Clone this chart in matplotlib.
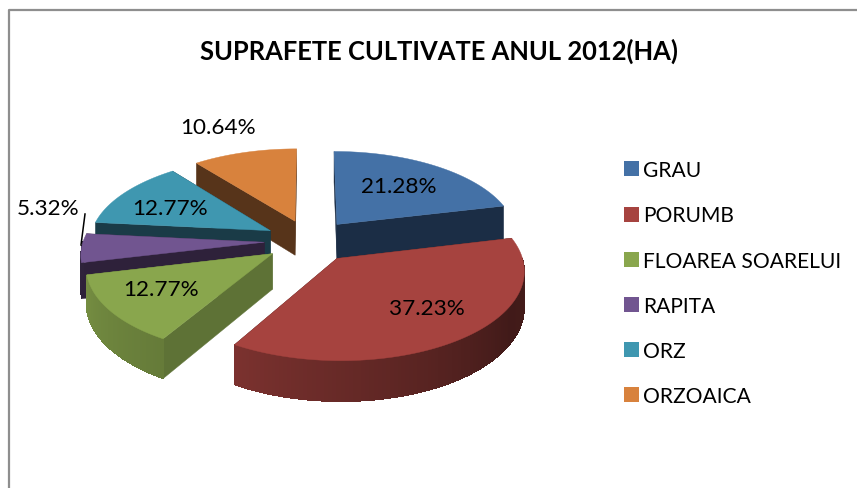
import numpy as np
import matplotlib
matplotlib.use("Agg")
import matplotlib.pyplot as plt
from matplotlib.patches import Patch

# Chart data (hectares)
crops = ["GRAU", "PORUMB", "FLOAREA SOARELUI", "RAPITA", "ORZ", "ORZOAICA"]
hectares = [20, 35, 12, 5, 12, 10]
title = "SUPRAFETE CULTIVATE ANUL 2012(HA)"

top_colors = ["#4471A6", "#A6433F", "#89A64D", "#715590", "#3F97B0", "#D8823D"]
face_colors = ["#1B2D45", "#421A18", "#5E7236", "#2E213A", "#1A3B47", "#57341A"]
rim_scale = [1, 1, 1, 0.48, 1, 1]

# Label centres in pixels
label_pos = [(399, 187), (427, 309), (161, 290), (48, 209), (170, 209), (218, 128)]

# Projection of the pie, pixel units
CX, CY = 309.5, 241.8
RX, RY = 181, 85.4
PERSP = 0.12
DEPTH = 35
EXPLODE = 0.25

plt.rcParams["font.family"] = ["Lato", "DejaVu Sans"]


def project(x, y, drop=0.0):
    s = 1 / (1 + PERSP * y)
    return CX + RX * x * s, CY - RY * y * s + drop * s


def shade(color, angle, scale):
    # rim brightness depends on where the rim faces
    m = np.interp(angle, [90, 120, 160, 210, 260], [0.42, 0.39, 0.55, 0.74, 0.86])
    return tuple(c * m * scale for c in matplotlib.colors.to_rgb(color))


def draw_wedge(ax, start, end, top, face, scale):
    mid = np.radians((start + end) / 2)
    ox, oy = EXPLODE * np.sin(mid), EXPLODE * np.cos(mid)
    angles = np.linspace(start, end, 120)
    xs = ox + np.sin(np.radians(angles))
    ys = oy + np.cos(np.radians(angles))

    # cut faces
    for ex, ey in [(xs[0], ys[0]), (xs[-1], ys[-1])]:
        quad = [project(ox, oy), project(ex, ey), project(ex, ey, DEPTH), project(ox, oy, DEPTH)]
        ax.fill(*zip(*quad), color=face, lw=0.3)

    # rim, drawn slice by slice so the shading can vary; each slice overlaps the next
    visible = [i for i in range(len(angles) - 1) if 90 <= angles[i] <= 270]
    for i in visible:
        j = min(i + 2, len(angles) - 1)
        quad = [project(xs[i], ys[i]), project(xs[j], ys[j]),
                project(xs[j], ys[j], DEPTH), project(xs[i], ys[i], DEPTH)]
        ax.fill(*zip(*quad), color=shade(top, angles[i], scale), lw=0, antialiased=False)

    # top surface
    outline = [project(ox, oy)] + [project(x, y) for x, y in zip(xs, ys)]
    ax.fill(*zip(*outline), color=top, lw=0.3)


fig = plt.figure(figsize=(8.57, 4.89), dpi=100)
ax = fig.add_axes([0, 0, 1, 1])
ax.set_xlim(0, 857)
ax.set_ylim(489, 0)
ax.axis("off")

# Chart border: only left and top are inside the crop
ax.plot([9, 9, 857], [489, 10.5, 10.5], color="#8E8E8E", lw=1.6)

total = sum(hectares)
edges = np.concatenate([[0], np.cumsum(hectares)]) / total * 360

# Far slices first
order = sorted(range(len(crops)),
               key=lambda i: -np.cos(np.radians((edges[i] + edges[i + 1]) / 2)))
for i in order:
    draw_wedge(ax, edges[i], edges[i + 1], top_colors[i], face_colors[i], rim_scale[i])

for value, (lx, ly) in zip(hectares, label_pos):
    ax.text(lx, ly, f"{value / total * 100:.2f}%", fontsize=16.2,
            ha="center", va="center", color="black")

# Leader line of the small slice
ax.plot([85, 81], [215, 246], color="black", lw=1.1)

ax.text(439, 51, title, fontsize=18.4, fontweight="bold", ha="center", va="center")

handles = [Patch(facecolor=c, edgecolor="none") for c in top_colors]
ax.legend(handles, crops, loc="upper left", bbox_to_anchor=(618 / 857, 1 - 155 / 489),
          frameon=False, fontsize=15.1, handlelength=0.68, handleheight=0.72,
          handletextpad=0.2, labelspacing=1.2, borderpad=0.3, borderaxespad=0)

fig.savefig("out.png", dpi=100)
